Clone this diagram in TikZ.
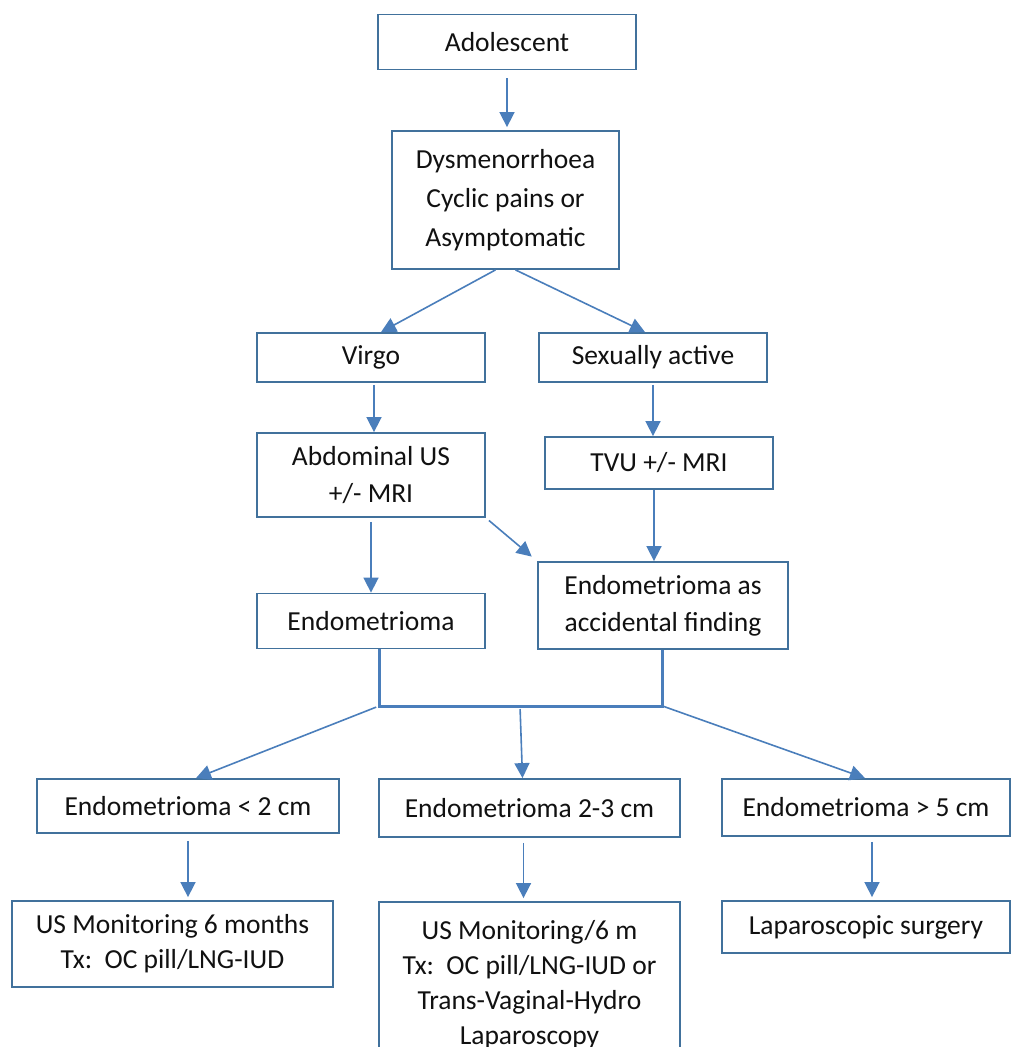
\documentclass[tikz,border=0pt]{standalone}
\usepackage{fontspec}
\setmainfont{Carlito}
\usetikzlibrary{arrows.meta}
\definecolor{endoEdge}{HTML}{41719C}
\definecolor{endoLine}{HTML}{4A7EBB}
\definecolor{endoInk}{HTML}{111111}
\tikzset{
  every picture/.style={font=\fontsize{27.5}{37}\selectfont, text=endoInk},
  endo box/.style={draw=endoEdge, line width=1.8pt, fill=white, align=center,
    inner sep=0pt},
  endo arrow/.style={-{Triangle[length=15pt,width=15pt]},
    draw=endoLine, line width=1.6pt},
  endo join/.style={draw=endoLine, line width=3pt}
}
\begin{document}
\begin{tikzpicture}[x=1pt,y=-1pt]
  \useasboundingbox (0,0) rectangle (1012,1047);
  \clip (0,0) rectangle (1012,1047);
  % upper part
  \node[endo box, minimum width=258pt, minimum height=55pt] (adol) at (507,42) {Adolescent};
  \node[endo box, minimum width=227pt, minimum height=138pt] (dysm) at (505.5,200)
    {Dysmenorrhoea\\[2pt] Cyclic pains or\\[2pt] Asymptomatic};
  \node[endo box, minimum width=228pt, minimum height=49pt] (virgo) at (371,357.5) {Virgo};
  \node[endo box, minimum width=228pt, minimum height=49pt] (sexact) at (653,357.5) {Sexually active};
  \node[endo box, minimum width=228pt, minimum height=84pt] (abdus) at (371,475)
    {Abdominal US\\ +/- MRI};
  \node[endo box, minimum width=228pt, minimum height=52pt] (tvu) at (659,463) {TVU +/- MRI};
  \node[endo box, minimum width=228pt, minimum height=55pt] (endo) at (371,621) {Endometrioma};
  \node[endo box, minimum width=250pt, minimum height=87pt] (accid) at (663,605.5)
    {Endometrioma as\\ accidental finding};
  % size classes
  \node[endo box, minimum width=302pt, minimum height=54pt] (small) at (188,806) {Endometrioma < 2 cm};
  \node[endo box, minimum width=301pt, minimum height=58pt] (mid) at (529.5,808) {Endometrioma 2-3 cm};
  \node[endo box, minimum width=288pt, minimum height=57pt] (large) at (866,807.5) {Endometrioma > 5 cm};
  \node[endo box, minimum width=321pt, minimum height=86pt] (mon6) at (172.5,944)
    {US Monitoring 6 months\\[-2pt] Tx:\ \ OC pill/LNG-IUD};
  \node[endo box, minimum width=301pt, minimum height=166pt] (mon6m) at (529.5,985)
    {US Monitoring/6 m\\[-2pt] Tx:\ \ OC pill/LNG-IUD or\\[-2pt] Trans-Vaginal-Hydro\\[-2pt] Laparoscopy};
  \node[endo box, minimum width=288pt, minimum height=52pt] (lapsurg) at (866,927) {Laparoscopic surgery};
  % connectors
  \draw[endo arrow, shorten <=8pt, shorten >=3pt] (adol.south) -- (adol.south |- dysm.north);
  \draw[endo arrow] ([xshift=-10pt]dysm.south) -- ([xshift=10pt]virgo.north);
  \draw[endo arrow] ([xshift=10pt]dysm.south) -- ([xshift=-8pt]sexact.north);
  \draw[endo arrow, shorten <=2pt] ([xshift=3pt]virgo.south) -- ([xshift=3pt]abdus.north);
  \draw[endo arrow, shorten <=2pt] (sexact.south) -- (sexact.south |- tvu.north);
  \draw[endo arrow, shorten <=4pt, shorten >=7pt] (abdus.south east) -- (accid.north west);
  \draw[endo arrow] ([xshift=-5pt]tvu.south) -- ([xshift=-9pt]accid.north);
  \draw[endo arrow, shorten <=4pt] (abdus.south) -- (endo.north);
  \coordinate (joinL) at (379,706);
  \coordinate (joinM) at (520,706);
  \coordinate (joinR) at (662.5,706);
  \draw[endo join] (endo.south -| joinL) -- (joinL) -- (joinR) -- (accid.south -| joinR);
  \draw[endo arrow, shorten <=3pt] (joinL) -- ([xshift=8pt]small.north);
  \draw[endo arrow, shorten <=3pt] (joinM) -- ([xshift=-7pt]mid.north);
  \draw[endo arrow] (joinR) -- ([xshift=-1pt]large.north);
  \draw[endo arrow, shorten <=7pt, shorten >=3pt] (small.south) -- (small.south |- mon6.north);
  \draw[endo arrow, shorten <=5pt, shorten >=3pt] ([xshift=-6pt]mid.south) -- ([xshift=-6pt]mon6m.north);
  \draw[endo arrow, shorten <=5pt, shorten >=3pt] ([xshift=6pt]large.south) -- ([xshift=6pt]lapsurg.north);
\end{tikzpicture}
\end{document}
